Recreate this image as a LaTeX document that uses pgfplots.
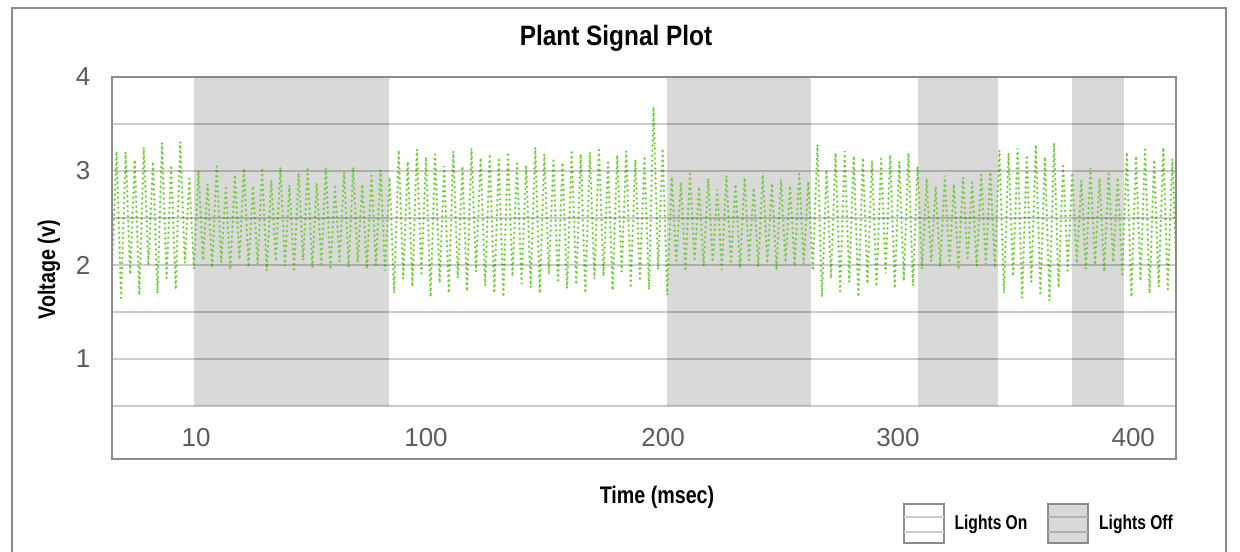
\documentclass[border=0pt]{standalone}
\usepackage{fontspec}
\setmainfont{Liberation Sans}
\usepackage{graphicx}
\usepackage{pgfplots}
\usepackage{pgfplotstable}
\pgfplotsset{compat=1.18}
\definecolor{Signal}{HTML}{74CC42}
\definecolor{Band}{HTML}{D9D9D7}
\definecolor{Frame}{HTML}{8A8A8A}
\definecolor{TickText}{HTML}{5C5C5C}

% one row per half period: trough, peak, trough, ...
\pgfplotstableread[row sep=\\]{v\\
1.95\\3.21\\1.65\\3.20\\1.90\\3.12\\1.68\\3.25\\2.00\\3.10\\1.70\\3.30\\1.86\\3.06\\1.74\\3.31\\2.02\\2.92\\
1.96\\3.00\\2.05\\2.86\\1.97\\3.05\\2.03\\2.82\\1.95\\2.96\\2.06\\3.03\\1.98\\2.84\\2.01\\3.01\\1.94\\2.90\\2.04\\3.04\\
1.99\\2.85\\1.93\\2.98\\2.05\\3.02\\1.97\\2.87\\2.01\\3.03\\1.95\\2.83\\2.04\\2.99\\1.98\\3.04\\2.03\\2.86\\1.96\\2.95\\2.00\\3.01\\
1.94\\2.93\\1.70\\3.22\\1.85\\3.10\\1.77\\3.23\\1.91\\3.15\\1.66\\3.18\\1.81\\3.05\\1.70\\3.21\\1.86\\3.05\\1.72\\3.24\\
1.93\\3.14\\1.78\\3.18\\1.70\\3.12\\1.66\\3.20\\1.88\\3.08\\1.80\\3.06\\1.76\\3.25\\1.70\\3.18\\1.90\\3.11\\1.81\\3.09\\
1.75\\3.20\\1.79\\3.18\\1.70\\3.20\\1.85\\3.25\\1.88\\3.09\\1.73\\3.17\\1.93\\3.21\\1.78\\3.12\\1.83\\3.16\\1.74\\3.68\\1.95\\3.24\\
1.68\\2.93\\2.02\\2.88\\1.96\\2.97\\2.04\\2.83\\1.99\\2.92\\2.03\\2.80\\1.95\\2.95\\2.01\\2.86\\
1.97\\2.93\\2.05\\2.82\\1.98\\2.96\\2.02\\2.87\\1.95\\2.91\\2.03\\2.84\\1.99\\2.97\\2.01\\2.89\\
1.94\\3.28\\1.66\\3.01\\1.86\\3.19\\1.72\\3.21\\1.82\\3.16\\1.66\\3.14\\1.80\\3.11\\1.77\\3.13\\1.91\\3.17\\1.75\\3.10\\1.83\\3.19\\1.78\\3.05\\
1.96\\2.92\\2.04\\2.83\\1.98\\2.95\\2.02\\2.86\\1.95\\2.93\\2.05\\2.88\\1.99\\2.96\\2.01\\2.99\\
1.97\\3.22\\1.70\\3.19\\1.88\\3.24\\1.65\\3.17\\1.82\\3.28\\1.70\\3.15\\1.62\\3.30\\1.76\\3.08\\
1.94\\2.98\\2.02\\2.90\\1.96\\3.03\\2.00\\2.92\\1.93\\2.97\\2.03\\2.93\\
1.90\\3.20\\1.66\\3.16\\1.83\\3.23\\1.70\\3.12\\1.77\\3.25\\1.74\\3.13\\1.80\\
}\signal

\begin{document}
\begin{tikzpicture}[x=1pt,y=1pt]
\useasboundingbox (0,0) rectangle (620,275.5);
\draw[Frame, line width=0.75pt] (6,-2) -- (6,271.5) -- (613,271.5) -- (613,-2);

\begin{axis}[
  at={(56pt,46pt)}, anchor=south west,
  scale only axis, width=532pt, height=191pt,
  xmin=0, xmax=233.8, ymin=-0.064, ymax=4,
  xtick={18.5,69,121.1,172.7,224.4},
  xticklabels={10,100,200,300,400},
  ytick={0.5,1,...,4}, yticklabels={,1,,2,,3,,4},
  major tick length=0pt,
  ymajorgrids,
  grid style={line width=0.9pt, black, opacity=0.2},
  axis line style={Frame, line width=0.75pt},
  axis on top,
  tick label style={font=\fontsize{13}{15}\selectfont, text=TickText},
  xticklabel style={anchor=center, yshift=10.5pt},
  yticklabel style={anchor=center, xshift=-14.5pt},
  /pgf/number format/assume math mode=true,
]
% lights off periods
\addplot[fill=Band, draw=none, forget plot] coordinates {(18,0.5) (18,4) (60.9,4) (60.9,0.5)} -- cycle;
\addplot[fill=Band, draw=none, forget plot] coordinates {(122,0.5) (122,4) (153.6,4) (153.6,0.5)} -- cycle;
\addplot[fill=Band, draw=none, forget plot] coordinates {(177.1,0.5) (177.1,4) (194.7,4) (194.7,0.5)} -- cycle;
\addplot[fill=Band, draw=none, forget plot] coordinates {(211,0.5) (211,4) (222.4,4) (222.4,0.5)} -- cycle;

\addplot[Signal, line width=1.25pt, line cap=round, dash pattern=on 0.1pt off 2.4pt, mark=none]
  table[x expr=\coordindex, y=v] {\signal};
\end{axis}

\node[font=\bfseries\fontsize{14}{16}\selectfont] at (308,256.5) {\scalebox{0.87}[1]{Plant Signal Plot}};
\node[font=\bfseries\fontsize{12}{14}\selectfont, rotate=90] at (24.5,140.5) {\scalebox{0.82}[1]{Voltage (v)}};
\node[font=\bfseries\fontsize{12}{14}\selectfont] at (328.5,27) {\scalebox{0.82}[1]{Time (msec)}};

% legend
\draw[Frame, fill=white, line width=0.6pt] (452,4) rectangle (472,23.5);
\draw[black!20, line width=0.7pt] (452,9.5) -- (472,9.5) (452,17) -- (472,17);
\node[font=\bfseries\fontsize{10}{12}\selectfont] at (495.5,13.5) {\scalebox{0.78}[1]{Lights On}};
\draw[Frame, fill=Band, line width=0.6pt] (524,4) rectangle (544,23.5);
\draw[black!30, line width=0.7pt] (524,9.5) -- (544,9.5) (524,17) -- (544,17);
\node[font=\bfseries\fontsize{10}{12}\selectfont] at (568,13.5) {\scalebox{0.78}[1]{Lights Off}};
\end{tikzpicture}
\end{document}
